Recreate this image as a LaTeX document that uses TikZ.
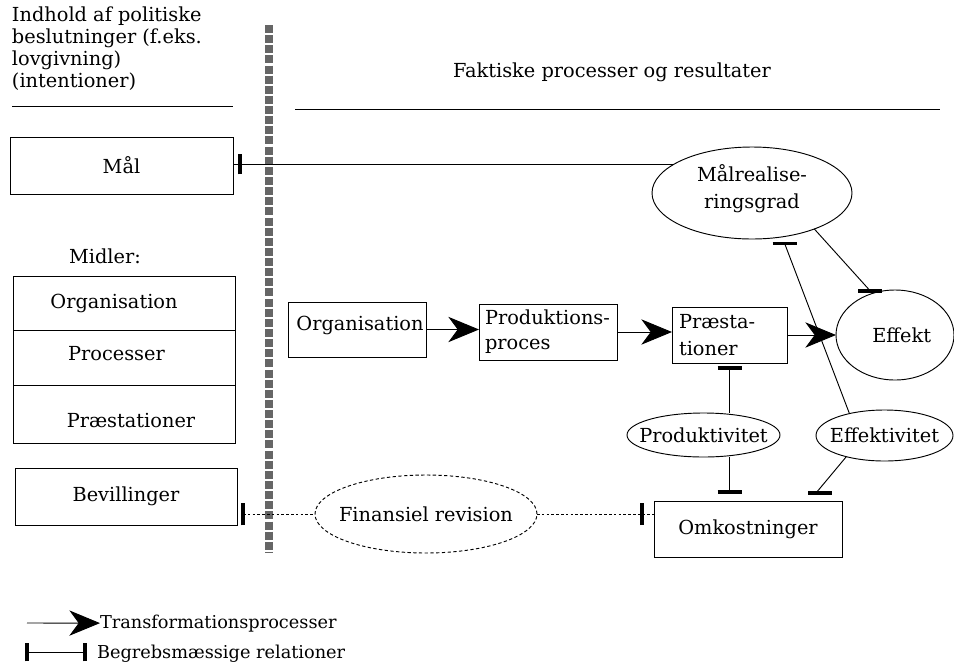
\documentclass[tikz,border=0pt]{standalone}
\usepackage{fontspec}
\setmainfont{DejaVu Serif}
\usetikzlibrary{arrows.meta,shapes.geometric}
\begin{document}
\begin{tikzpicture}[x=0.75pt,y=-0.75pt,
  every node/.style={inner sep=0pt, outer sep=0pt, font=\fontsize{14.5}{20}\selectfont},
  box/.style={draw, line width=0.7pt, rectangle},
  ell/.style={draw, line width=0.7pt, ellipse},
  conn/.style={line width=0.7pt},
  trans/.style={line width=0.7pt, -{Stealth[length=23pt,width=19pt,inset=7pt]}},
  tickbar/.style={line width=2.5pt},
  dotl/.style={line width=0.7pt, dash pattern=on 2pt off 1.6pt},
  divider/.style={line width=6pt, black!60, dash pattern=on 6pt off 1.6pt},
  legfont/.style={font=\fontsize{13.3}{16}\selectfont},
]
\fill[white] (0,0) rectangle (954,665);
\useasboundingbox (0,0) rectangle (954,665);

% headers
\node[anchor=north west, align=left, font=\fontsize{14.5}{16.5}\selectfont] (intent) at (12,7)
  {Indhold af politiske\\beslutninger (f.eks.\\lovgivning)\\(intentioner)};
\draw[line width=0.6pt] (12,106) -- (233,106);
\node[anchor=base west] (fakt) at (453,77) {Faktiske processer og resultater};
\draw[line width=0.6pt] (295,109) -- (940,109);

% divider
\draw[divider] (269,25) -- (269,553);

% left column
\node[box, minimum width=167.25pt, minimum height=42.75pt] (mal) at (121.5,165.5) {Mål};
\node[anchor=base] (midler) at (105,263) {Midler:};
\node[box, minimum width=166.5pt, minimum height=40.5pt] (m1) at (124,303) {};
\node[box, minimum width=166.5pt, minimum height=41.25pt] (m2) at (124,357.5) {};
\node[box, minimum width=166.5pt, minimum height=43.5pt] (m3) at (124,414) {};
\node[anchor=base] (m1t) at (114,308) {Organisation};
\node[anchor=base] (m2t) at (116.5,360) {Processer};
\node[anchor=base] (m3t) at (131,427) {Præstationer};
\node[box, minimum width=166.5pt, minimum height=42.75pt] (bev) at (126,496.5) {Bevillinger};

% right part
\node[box, minimum width=103.5pt, minimum height=41.25pt] (org) at (357,329.5) {};
\node[anchor=base] (orgt) at (360,330) {Organisation};
\node[box, minimum width=103.5pt, minimum height=42pt, align=left, text width=94.5pt,
      font=\fontsize{14.5}{18.75}\selectfont] (prod) at (548,332) {Produktions-\\proces};
\node[box, minimum width=86.25pt, minimum height=42pt, align=left, text width=75.75pt,
      font=\fontsize{14.5}{20.25}\selectfont] (praes) at (729.5,335) {Præsta-\\tioner};
\node[ell, minimum width=150pt, minimum height=69pt,
      label={[name=mrgt, yshift=3.5pt, align=center, font=\fontsize{14.5}{20.25}\selectfont]center:Målrealise-\\ringsgrad}] (mrg) at (752,193) {};
\node[ell, minimum width=88.5pt, minimum height=67.5pt,
      label={[name=efft, xshift=5pt]center:Effekt}] (eff) at (895,335) {};
\node[ell, minimum width=114.75pt, minimum height=33pt,
      label={[name=produt]center:Produktivitet}] (produ) at (703.5,435) {};
\node[ell, minimum width=102.75pt, minimum height=38.25pt,
      label={[name=effvt]center:Effektivitet}] (effv) at (884.5,435.5) {};
\node[box, minimum width=141pt, minimum height=42pt] (omk) at (748,529) {Omkostninger};
\node[ell, dash pattern=on 2.5pt off 1.8pt, minimum width=166.5pt, minimum height=58.5pt,
      label={[name=fint]center:Finansiel revision}] (fin) at (426,514) {};

% tick positions
\path (mal.east |- mrg.160) ++(7,0) coordinate (tA);
\path (mrg.-54) ++(1,7) coordinate (tB);
\path (eff.121) ++(0,-3) coordinate (tC);
\path (praes.south) ++(0,5) coordinate (tD);
\path (omk.north -| praes.south) ++(0,-9) coordinate (tE);
\path (omk.north) ++(68,-8) coordinate (tF);
\path (bev.east |- fin.west) ++(6,0) coordinate (tG);
\path (omk.west |- fin.east) ++(-12,0) coordinate (tH);

% conceptual relations
\draw[conn] (mal.east |- mrg.160) -- (mrg.160);
\draw[tickbar] ([yshift=-7.5pt]tA) -- ([yshift=7.5pt]tA);
\draw[conn] (mrg.-30) -- (tC);
\draw[tickbar] ([xshift=-9pt]tC) -- ([xshift=9pt]tC);
\draw[conn] (tB) -- (effv.148);
\draw[tickbar] ([xshift=-9pt]tB) -- ([xshift=9pt]tB);
\draw[conn] (tD) -- (tD |- produ.north);
\draw[tickbar] ([xshift=-9pt]tD) -- ([xshift=9pt]tD);
\draw[conn] (tD |- produ.south) -- (tE);
\draw[tickbar] ([xshift=-9pt]tE) -- ([xshift=9pt]tE);
\draw[conn] (effv.209) -- (tF);
\draw[tickbar] ([xshift=-6pt]tF) -- ([xshift=12pt]tF);
\draw[dotl] (tG) -- (fin.west);
\draw[tickbar] ([yshift=-8.5pt]tG) -- ([yshift=8.5pt]tG);
\draw[dotl] (fin.east) -- (omk.west |- fin.east);
\draw[tickbar] ([yshift=-8.25pt]tH) -- ([yshift=8.25pt]tH);

% transformations
\draw[trans] (org.east) -- (prod.west |- org.east);
\draw[trans] (prod.east) -- (praes.west |- prod.east);
\draw[trans] (praes.east) -- (eff.west |- praes.east);

% legend
\coordinate (lg1) at (27,623);
\node[anchor=base west, legfont] (leg1) at (100,628) {Transformationsprocesser};
\draw[trans] (lg1) -- (leg1.west);
\coordinate (lg2a) at (27,652);
\coordinate (lg2b) at (85,652);
\draw[conn] (lg2a) -- (lg2b);
\draw[tickbar] ([yshift=-7pt]lg2a) -- ([yshift=7pt]lg2a);
\draw[tickbar] ([yshift=-7pt]lg2b) -- ([yshift=7pt]lg2b);
\node[anchor=base west, legfont] (leg2) at (97,658) {Begrebsmæssige relationer};
\end{tikzpicture}
\end{document}
